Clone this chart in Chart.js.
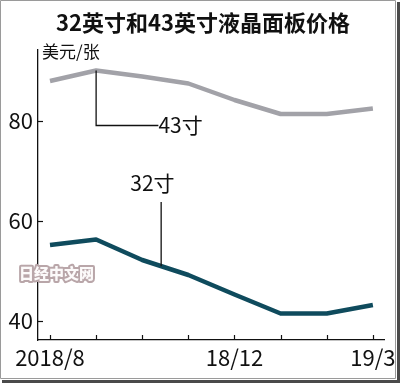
<!DOCTYPE html>
<html>
<head>
<meta charset="utf-8">
<script src="https://cdn.jsdelivr.net/npm/chart.js@4.4.1/dist/chart.umd.min.js"></script>
<style>
html,body{margin:0;padding:0;background:#fff;}
#wrap{width:400px;height:383px;position:relative;}
</style>
</head>
<body>
<div id="wrap"><canvas id="c" width="400" height="383"></canvas></div>
<script>
const titleText = '32英寸和43英寸液晶面板价格';
const unitText = '美元/张';
const months = ['2018/8','','','','18/12','','','19/3'];
const series43 = [88, 90.1, 88.9, 87.5, 84.2, 81.4, 81.4, 82.5];
const series32 = [55.2, 56.3, 52.2, 49.2, 45.3, 41.5, 41.5, 43.2];
const yTicks = [40, 60, 80];
const label43 = '43寸';
const label32 = '32寸';
const watermark = '日经中文网';

const NARROW = "'Liberation Sans Narrow','Noto Sans CJK SC',sans-serif";

const decor = {
  id: 'decor',
  beforeDraw(chart) {
    const ctx = chart.ctx;
    ctx.save();
    ctx.fillStyle = '#fff';
    ctx.fillRect(0, 0, chart.width, chart.height);
    ctx.restore();
  },
  afterDraw(chart) {
    const ctx = chart.ctx;
    const xs = chart.scales.x, ys = chart.scales.y;
    const area = chart.chartArea;
    ctx.save();
    // title
    ctx.fillStyle = '#111';
    ctx.font = "bold 22px 'Noto Sans CJK SC', sans-serif";
    ctx.textAlign = 'center';
    ctx.textBaseline = 'middle';
    ctx.fillText(titleText, 203, 23);
    // unit
    ctx.font = "17px 'Noto Sans CJK SC', sans-serif";
    ctx.textAlign = 'left';
    ctx.fillText(unitText, 42, 52);
    // inside tick marks on x
    ctx.strokeStyle = '#111';
    ctx.lineWidth = 1.2;
    for (let i = 0; i < months.length; i++) {
      const px = Math.round(xs.getPixelForValue(i)) + 0.5;
      ctx.beginPath();
      ctx.moveTo(px, area.bottom);
      ctx.lineTo(px, area.bottom - 5);
      ctx.stroke();
    }
    // inside tick marks on y
    yTicks.forEach(v => {
      const py = Math.round(ys.getPixelForValue(v)) + 0.5;
      ctx.beginPath();
      ctx.moveTo(area.left - 1, py);
      ctx.lineTo(area.left + 5, py);
      ctx.stroke();
    });
    // 43 leader
    ctx.lineWidth = 1.3;
    const p43x = xs.getPixelForValue(1), p43y = ys.getPixelForValue(series43[1]);
    const l43y = ys.getPixelForValue(79.1);
    const l43x = xs.getPixelForValue(2.35);
    ctx.beginPath();
    ctx.moveTo(p43x, p43y);
    ctx.lineTo(p43x, l43y);
    ctx.lineTo(l43x, l43y);
    ctx.stroke();
    ctx.font = "21px " + NARROW;
    ctx.textAlign = 'left';
    ctx.textBaseline = 'middle';
    ctx.fillText(label43, l43x, l43y);
    // 32 leader
    const vx = 2.41;
    const i0 = Math.floor(vx), t = vx - i0;
    const onLine = series32[i0] + (series32[i0+1] - series32[i0]) * t;
    const lx = xs.getPixelForValue(vx);
    ctx.beginPath();
    ctx.moveTo(lx, ys.getPixelForValue(63.8));
    ctx.lineTo(lx, ys.getPixelForValue(onLine));
    ctx.stroke();
    ctx.textAlign = 'center';
    ctx.fillText(label32, xs.getPixelForValue(2.22), ys.getPixelForValue(67.6));
    // watermark
    ctx.font = "900 15px 'Noto Sans CJK SC', sans-serif";
    ctx.textAlign = 'left';
    ctx.lineWidth = 4;
    ctx.strokeStyle = '#b9a6a9';
    ctx.lineJoin = 'round';
    ctx.strokeText(watermark, 19, 273);
    ctx.fillStyle = '#fcfafa';
    ctx.fillText(watermark, 19, 273);
    // frame
    ctx.strokeStyle = '#9a9a9a';
    ctx.lineWidth = 1;
    ctx.strokeRect(0.5, 0.5, 395, 378);
    ctx.fillStyle = '#4a4a4a';
    ctx.fillRect(397, 2, 3, 381);
    ctx.fillRect(2, 380, 398, 3);
    ctx.restore();
  }
};

new Chart(document.getElementById('c'), {
  type: 'line',
  data: {
    datasets: [
      {
        label: label43,
        data: series43.map((v, i) => ({x: i, y: v})),
        borderColor: '#a2a2a8',
        borderWidth: 4.5,
        pointRadius: 0,
        tension: 0,
        borderJoinStyle: 'round'
      },
      {
        label: label32,
        data: series32.map((v, i) => ({x: i, y: v})),
        borderColor: '#0f4b5d',
        borderWidth: 4.5,
        pointRadius: 0,
        tension: 0,
        borderJoinStyle: 'round'
      }
    ]
  },
  plugins: [decor],
  options: {
    responsive: false,
    animation: false,
    layout: { padding: { left: 0, top: 50, right: 15, bottom: 0 } },
    plugins: { legend: { display: false }, tooltip: { enabled: false }, title: { display: false } },
    scales: {
      x: {
        type: 'linear',
        min: -0.26,
        max: 7.25,
        grid: { display: false, drawTicks: false },
        border: { display: true, color: '#111', width: 1.3 },
        afterBuildTicks: s => { s.ticks = months.map((m, i) => ({value: i})); },
        afterFit: s => { s.height = 43; },
        ticks: {
          autoSkip: false,
          maxRotation: 0,
          padding: 4,
          color: '#111',
          font: { family: NARROW, size: 22 },
          callback: (v) => months[v] || ''
        }
      },
      y: {
        min: 36.2,
        max: 94.2,
        grid: { display: false, drawTicks: false },
        border: { display: true, color: '#111', width: 1.3 },
        afterBuildTicks: s => { s.ticks = yTicks.map(v => ({value: v})); },
        afterFit: s => { s.width = 38; },
        ticks: {
          padding: 5,
          color: '#111',
          font: { family: NARROW, size: 22 }
        }
      }
    }
  }
});
</script>
</body>
</html>
